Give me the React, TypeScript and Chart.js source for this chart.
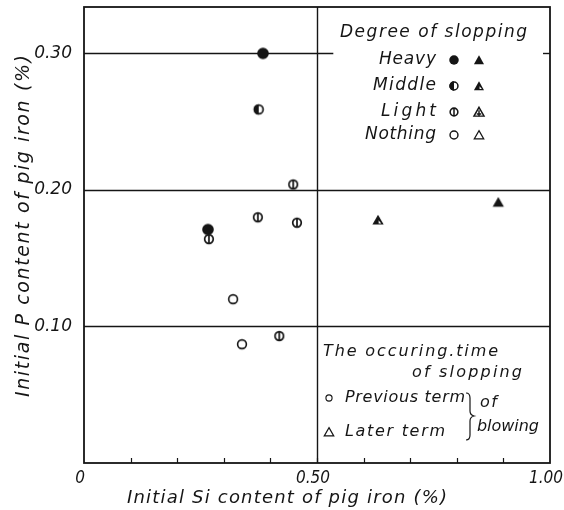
import React, { useEffect, useRef } from 'react';
import { Chart, registerables } from 'chart.js';

Chart.register(...registerables);

// ---- data (initial Si %, initial P %) ----
const heavyPrevSi = [0.384, 0.266];
const heavyPrevP = [0.300, 0.171];
const middlePrevSi = [0.375];
const middlePrevP = [0.259];
const lightPrevSi = [0.268, 0.373, 0.449, 0.457, 0.419];
const lightPrevP = [0.164, 0.180, 0.204, 0.176, 0.093];
const nothingPrevSi = [0.320, 0.339];
const nothingPrevP = [0.120, 0.087];
const heavyLaterSi = [0.889];
const heavyLaterP = [0.191];
const middleLaterSi = [0.631];
const middleLaterP = [0.178];

const xTickValues = [0, 0.5, 1];
const xTickText = ['0', '0.50', '1.00'];
const yTickValues = [0.1, 0.2, 0.3];
const yTickText = ['0.10', '0.20', '0.30'];

const INK = '#151515';
const FONT = '"DejaVu Sans"';

const toPts = (xs: number[], ys: number[]) => xs.map((x, i) => ({ x, y: ys[i] }));
const labelFor = (v: number, vals: number[], txt: string[]) => {
  const i = vals.findIndex((t) => Math.abs(t - v) < 1e-6);
  return i >= 0 ? txt[i] : '';
};

function makeMarker(kind: string, scale = 1): HTMLCanvasElement {
  const c = document.createElement('canvas');
  c.width = 16;
  c.height = 16;
  const g = c.getContext('2d')!;
  g.translate(8, 8);
  g.scale(scale, scale);
  g.strokeStyle = INK;
  g.fillStyle = INK;
  const tri = () => {
    g.beginPath();
    g.moveTo(0, -5.2);
    g.lineTo(5.6, 4.6);
    g.lineTo(-5.6, 4.6);
    g.closePath();
  };
  switch (kind) {
    case 'heavyCircle':
      g.beginPath();
      g.arc(0, 0, 5.8, 0, Math.PI * 2);
      g.fill();
      break;
    case 'middleCircle':
      g.lineWidth = 1.7;
      g.beginPath();
      g.arc(0, 0, 4.4, 0, Math.PI * 2);
      g.stroke();
      g.beginPath();
      g.arc(0, 0, 5.2, Math.PI / 2, (Math.PI * 3) / 2);
      g.closePath();
      g.fill();
      break;
    case 'lightCircle':
      g.lineWidth = 1.7;
      g.beginPath();
      g.arc(0, 0, 4.3, 0, Math.PI * 2);
      g.stroke();
      g.beginPath();
      g.moveTo(0, -4.3);
      g.lineTo(0, 4.3);
      g.stroke();
      break;
    case 'nothingCircle':
      g.lineWidth = 1.6;
      g.beginPath();
      g.arc(0, 0, 4.4, 0, Math.PI * 2);
      g.stroke();
      break;
    case 'heavyTri':
      tri();
      g.fill();
      break;
    case 'middleTri':
      tri();
      g.fill();
      g.fillStyle = '#ffffff';
      g.beginPath();
      g.moveTo(0.6, 0.2);
      g.lineTo(3.2, 3.4);
      g.lineTo(0.6, 3.4);
      g.closePath();
      g.fill();
      break;
    case 'lightTri':
      g.lineWidth = 1.6;
      tri();
      g.stroke();
      g.beginPath();
      g.moveTo(0, -2);
      g.lineTo(0, 4.6);
      g.moveTo(-2.5, 2.2);
      g.lineTo(2.5, 2.2);
      g.stroke();
      break;
    case 'nothingTri':
      g.lineWidth = 1.4;
      tri();
      g.stroke();
      break;
  }
  return c;
}

function drawFit(
  ctx: CanvasRenderingContext2D,
  text: string,
  x: number,
  y: number,
  width: number,
  size: number,
  align: 'left' | 'right' | 'center' = 'left'
) {
  ctx.save();
  ctx.font = `italic ${size}px ${FONT}`;
  (ctx as any).letterSpacing = '0px';
  const w = ctx.measureText(text).width;
  const n = text.length;
  const sp = n > 1 ? (width - w) / (n - 1) : 0;
  (ctx as any).letterSpacing = `${sp}px`;
  ctx.fillStyle = INK;
  ctx.textBaseline = 'middle';
  ctx.textAlign = 'left';
  let left = x;
  if (align === 'right') left = x - width;
  if (align === 'center') left = x - width / 2;
  ctx.fillText(text, left, y);
  ctx.restore();
}

export default function App() {
  const ref = useRef<HTMLCanvasElement>(null);

  useEffect(() => {
    if (!ref.current) return;
    const m = {
      heavyCircle: makeMarker('heavyCircle'),
      middleCircle: makeMarker('middleCircle'),
      lightCircle: makeMarker('lightCircle'),
      nothingCircle: makeMarker('nothingCircle'),
      heavyTri: makeMarker('heavyTri'),
      middleTri: makeMarker('middleTri'),
      lightTri: makeMarker('lightTri', 0.9),
      nothingTri: makeMarker('nothingTri', 0.85),
      heavyCircleL: makeMarker('heavyCircle', 0.82),
      middleCircleL: makeMarker('middleCircle', 0.9),
      lightCircleL: makeMarker('lightCircle', 0.9),
      nothingCircleL: makeMarker('nothingCircle', 0.9),
      heavyTriL: makeMarker('heavyTri', 0.9),
      middleTriL: makeMarker('middleTri', 0.9),
      smallCircle: makeMarker('nothingCircle', 0.7),
      smallTri: makeMarker('nothingTri', 0.85),
    };

    const framePlugin = {
      id: 'frame',
      beforeDatasetsDraw(chart: any) {
        const { ctx, chartArea: a, scales } = chart;
        const xs = scales.x;
        const ys = scales.y;
        ctx.save();
        ctx.strokeStyle = INK;
        ctx.lineWidth = 1.4;
        const hline = (v: number, x0: number, x1: number) => {
          const y = Math.round(ys.getPixelForValue(v)) + 0.5;
          ctx.beginPath();
          ctx.moveTo(x0, y);
          ctx.lineTo(x1, y);
          ctx.stroke();
        };
        hline(0.1, a.left, a.right);
        hline(0.2, a.left, a.right);
        hline(0.3, a.left, xs.getPixelForValue(0.535));
        hline(0.3, xs.getPixelForValue(0.985), a.right);
        const vx = Math.round(xs.getPixelForValue(0.5)) + 0.5;
        ctx.beginPath();
        ctx.moveTo(vx, a.top);
        ctx.lineTo(vx, a.bottom);
        ctx.stroke();
        // minor ticks on x axis, pointing inward
        ctx.lineWidth = 1.2;
        for (let i = 1; i < 10; i++) {
          const tx = Math.round(xs.getPixelForValue(i / 10)) + 0.5;
          ctx.beginPath();
          ctx.moveTo(tx, a.bottom);
          ctx.lineTo(tx, a.bottom - 5);
          ctx.stroke();
        }
        // border
        ctx.lineWidth = 1.8;
        ctx.strokeRect(a.left, a.top, a.right - a.left, a.bottom - a.top);
        ctx.restore();
      },
      afterDraw(chart: any) {
        const { ctx } = chart;
        // axis titles
        drawFit(ctx, 'Initial Si content of pig iron (%)', 287, 498, 320, 18, 'center');
        ctx.save();
        ctx.translate(24, 226);
        ctx.rotate(-Math.PI / 2);
        drawFit(ctx, 'Initial P content of pig iron (%)', 0, 0, 342, 19, 'center');
        ctx.restore();

        // upper legend: degree of slopping
        drawFit(ctx, 'Degree of slopping', 340, 33, 187, 17);
        const rows: [string, number, number, HTMLCanvasElement, HTMLCanvasElement][] = [
          ['Heavy', 60, 57, m.heavyCircleL, m.heavyTriL],
          ['Middle', 86, 63, m.middleCircleL, m.middleTriL],
          ['Light', 112, 55, m.lightCircleL, m.lightTri],
          ['Nothing', 135, 71, m.nothingCircleL, m.nothingTri],
        ];
        rows.forEach(([t, y, w, c, tr]) => {
          drawFit(ctx, t, 436, y, w, 17, 'right');
          ctx.drawImage(c, 454 - 8, y - 8);
          ctx.drawImage(tr, 479 - 8, y - 8);
        });

        // lower legend: occurring time
        drawFit(ctx, 'The occuring.time', 323, 352, 175, 16);
        drawFit(ctx, 'of slopping', 412, 373, 110, 16);
        ctx.drawImage(m.smallCircle, 329 - 8, 398 - 8);
        drawFit(ctx, 'Previous term', 345, 398, 120, 16);
        ctx.drawImage(m.smallTri, 329 - 8, 432 - 8);
        drawFit(ctx, 'Later term', 345, 432, 100, 16);
        drawFit(ctx, 'of', 480, 403, 17, 16);
        drawFit(ctx, 'blowing', 477, 427, 62, 16);
        ctx.save();
        ctx.strokeStyle = INK;
        ctx.lineWidth = 1.2;
        ctx.beginPath();
        ctx.moveTo(466, 393);
        ctx.quadraticCurveTo(470, 393, 470, 398);
        ctx.lineTo(470, 411);
        ctx.quadraticCurveTo(470, 415, 474, 416);
        ctx.quadraticCurveTo(470, 417, 470, 421);
        ctx.lineTo(470, 435);
        ctx.quadraticCurveTo(470, 440, 466, 440);
        ctx.stroke();
        ctx.restore();
      },
    };

    const chart = new Chart(ref.current, {
      type: 'scatter',
      data: {
        datasets: [
          { label: 'Heavy (previous)', data: toPts(heavyPrevSi, heavyPrevP), pointStyle: m.heavyCircle },
          { label: 'Middle (previous)', data: toPts(middlePrevSi, middlePrevP), pointStyle: m.middleCircle },
          { label: 'Light (previous)', data: toPts(lightPrevSi, lightPrevP), pointStyle: m.lightCircle },
          { label: 'Nothing (previous)', data: toPts(nothingPrevSi, nothingPrevP), pointStyle: m.nothingCircle },
          { label: 'Heavy (later)', data: toPts(heavyLaterSi, heavyLaterP), pointStyle: m.heavyTri },
          { label: 'Middle (later)', data: toPts(middleLaterSi, middleLaterP), pointStyle: m.middleTri },
        ] as any,
      },
      options: {
        animation: false,
        responsive: false,
        devicePixelRatio: 1,
        layout: { padding: { top: 7, right: 14, left: 0, bottom: 0 } },
        plugins: { legend: { display: false }, tooltip: { enabled: false } },
        scales: {
          x: {
            type: 'linear',
            min: 0,
            max: 1,
            grid: { display: false, drawTicks: false },
            border: { display: false },
            ticks: {
              stepSize: 0.1,
              autoSkip: false,
              maxRotation: 0,
              padding: 5,
              labelOffset: -4,
              color: INK,
              font: { family: '"DejaVu Sans Condensed", "DejaVu Sans"', style: 'italic', size: 17 },
              callback: (v: any) => labelFor(Number(v), xTickValues, xTickText),
            },
            afterFit: (s: any) => {
              s.height = 47;
              s.paddingLeft = 0;
              s.paddingRight = 0;
            },
          },
          y: {
            type: 'linear',
            min: 0,
            max: 0.334,
            grid: { display: false, drawTicks: false },
            border: { display: false },
            ticks: {
              stepSize: 0.1,
              autoSkip: false,
              padding: 12,
              color: INK,
              font: { family: 'DejaVu Sans', style: 'italic', size: 17 },
              callback: (v: any) => labelFor(Number(v), yTickValues, yTickText),
            },
            afterFit: (s: any) => {
              s.width = 84;
              s.paddingTop = 0;
              s.paddingBottom = 0;
            },
          },
        },
      },
      plugins: [framePlugin],
    } as any);

    return () => chart.destroy();
  }, []);

  return (
    <div style={{ position: 'fixed', left: 0, top: 0, width: 564, height: 510, background: '#fff' }}>
      <canvas ref={ref} width={564} height={510} style={{ width: 564, height: 510 }} />
    </div>
  );
}
